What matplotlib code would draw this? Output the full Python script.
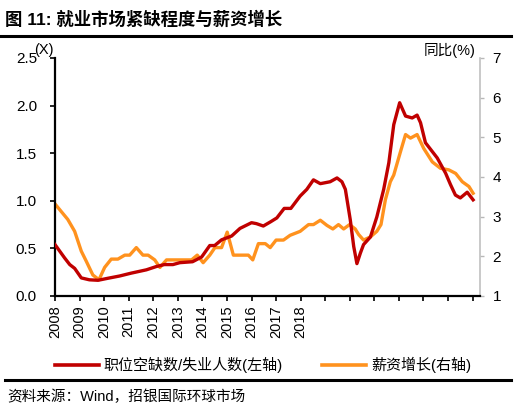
import matplotlib
matplotlib.use('Agg')
import matplotlib.pyplot as plt
from matplotlib.lines import Line2D

plt.rcParams['font.family'] = ['Liberation Sans', 'Noto Sans CJK SC', 'DejaVu Sans']

# 职位空缺数/失业人数 (左轴)
ratio_x = [2008.0, 2008.39, 2008.6, 2008.8, 2009.07, 2009.4, 2009.75, 2010.15, 2010.63,
           2011.1, 2011.72, 2012.13, 2012.45, 2012.8, 2013.08, 2013.6, 2013.97, 2014.3,
           2014.5, 2014.78, 2015.19, 2015.53, 2016.0, 2016.2, 2016.48, 2016.78, 2017.03,
           2017.33, 2017.6, 2017.98, 2018.25, 2018.52, 2018.8, 2019.2, 2019.48, 2019.68,
           2019.82, 2020.02, 2020.16, 2020.29, 2020.43, 2020.56, 2020.84, 2021.1, 2021.38,
           2021.59, 2021.79, 2022.03, 2022.27, 2022.54, 2022.74, 2022.88, 2023.08, 2023.56,
           2023.9, 2024.1, 2024.3, 2024.5, 2024.78, 2025.02]
ratio_y = [0.54, 0.40, 0.33, 0.29, 0.19, 0.17, 0.165, 0.186, 0.21,
           0.24, 0.275, 0.31, 0.33, 0.33, 0.35, 0.36, 0.41, 0.53,
           0.53, 0.59, 0.63, 0.71, 0.77, 0.76, 0.735, 0.78, 0.82,
           0.92, 0.92, 1.05, 1.12, 1.22, 1.18, 1.20, 1.24, 1.20,
           1.12, 0.80, 0.52, 0.34, 0.45, 0.54, 0.62, 0.83, 1.12,
           1.40, 1.80, 2.03, 1.89, 1.87, 1.90, 1.82, 1.61, 1.45,
           1.29, 1.17, 1.06, 1.03, 1.09, 1.01]

# 薪资增长 (右轴)
wage_x = [2008.0, 2008.52, 2008.8, 2009.07, 2009.27, 2009.54, 2009.79, 2010.02, 2010.29,
          2010.56, 2010.84, 2011.04, 2011.31, 2011.58, 2011.79, 2012.06, 2012.27, 2012.54,
          2012.81, 2013.56, 2013.79, 2014.03, 2014.3, 2014.51, 2014.78, 2015.01, 2015.26,
          2015.87, 2016.05, 2016.28, 2016.56, 2016.76, 2017.0, 2017.3, 2017.57, 2017.98,
          2018.32, 2018.52, 2018.8, 2019.07, 2019.31, 2019.54, 2019.75, 2019.99, 2020.22,
          2020.36, 2020.56, 2020.84, 2021.1, 2021.27, 2021.45, 2021.65, 2021.79, 2022.06,
          2022.27, 2022.47, 2022.74, 2023.01, 2023.36, 2023.69, 2024.03, 2024.31, 2024.58,
          2024.85, 2025.02]
wage_y = [3.32, 2.93, 2.63, 2.13, 1.88, 1.53, 1.41, 1.72, 1.93,
          1.93, 2.03, 2.03, 2.22, 2.03, 2.03, 1.91, 1.72, 1.91,
          1.91, 1.91, 2.03, 1.84, 2.03, 2.22, 2.22, 2.61, 2.03,
          2.03, 1.91, 2.32, 2.32, 2.22, 2.41, 2.41, 2.53, 2.63,
          2.80, 2.80, 2.91, 2.78, 2.69, 2.80, 2.69, 2.80, 2.69,
          2.55, 2.41, 2.49, 2.63, 2.80, 3.43, 3.88, 4.05, 4.63,
          5.07, 4.98, 5.07, 4.72, 4.38, 4.22, 4.18, 4.09, 3.88,
          3.76, 3.59]

years = list(range(2008, 2026))
year_labels = [str(y) if y <= 2018 else '' for y in years]

red = '#C00000'
orange = '#FF921E'

fig = plt.figure(figsize=(5.17, 4.13), dpi=100)
ax = fig.add_axes([0.1064, 0.2833, 0.822, 0.5763])
ax2 = ax.twinx()

ax.plot(ratio_x, ratio_y, color=red, lw=2.4, zorder=3)
ax2.plot(wage_x, wage_y, color=orange, lw=2.4, zorder=2)
ax.set_zorder(ax2.get_zorder() + 1)
ax.patch.set_visible(False)

ax.set_xlim(2008, 2025.3)
ax.set_ylim(0, 2.5)
ax2.set_ylim(1, 7)
ax.set_xticks(years)
ax.set_xticklabels(year_labels, rotation=90, fontsize=10.5)
ax.set_yticks([0, 0.5, 1.0, 1.5, 2.0, 2.5])
ax.set_yticklabels(['0.0', '0.5', '1.0', '1.5', '2.0', '2.5'], fontsize=11)
ax.tick_params(axis='y', length=3.6, width=1.2, direction='out', pad=9.4)
ax.tick_params(axis='x', length=3.6, width=1.2, direction='out', pad=3)
ax2.set_yticks(range(1, 8))
ax2.tick_params(axis='y', labelsize=11, colors='#b8b8b8', labelcolor='black',
                length=3, width=1, pad=6)

ax.spines['top'].set_visible(False)
ax2.spines['top'].set_visible(False)
ax.spines['right'].set_visible(False)
ax2.spines['left'].set_visible(False)
ax2.spines['bottom'].set_visible(False)
ax.spines['left'].set_linewidth(1.6)
ax.spines['bottom'].set_linewidth(1.6)
ax2.spines['right'].set_color('#c0c0c0')
ax2.spines['right'].set_linewidth(1.2)

fig.text(44 / 517, 1 - 50 / 413, '(X)', fontsize=10.5, ha='center', va='center')
fig.text(450 / 517, 1 - 50 / 413, '同比(%)', fontsize=10.5, ha='center', va='center')

fig.text(5 / 517, 1 - 19 / 413, '图 11: 就业市场紧缺程度与薪资增长', fontsize=12.5, fontweight='bold',
         ha='left', va='center')
fig.add_artist(Line2D([0, 511 / 517], [1 - 36 / 413] * 2, color='black', lw=2.2))
fig.add_artist(Line2D([5 / 517, 511 / 517], [1 - 380 / 413] * 2, color='black', lw=2.2))
fig.text(7 / 517, 1 - 397 / 413, '资料来源：Wind，招银国际环球市场', fontsize=10.5, ha='left', va='center')

handles = [Line2D([], [], color=red, lw=2.6), Line2D([], [], color=orange, lw=2.6)]
fig.legend(handles, ['职位空缺数/失业人数(左轴)', '薪资增长(右轴)'], loc='center',
           bbox_to_anchor=(263 / 517, 1 - 365 / 413), ncol=2, frameon=False, fontsize=10.8,
           handlelength=2.9, columnspacing=2.6, handletextpad=0.35)

fig.savefig('out.png', dpi=100)
